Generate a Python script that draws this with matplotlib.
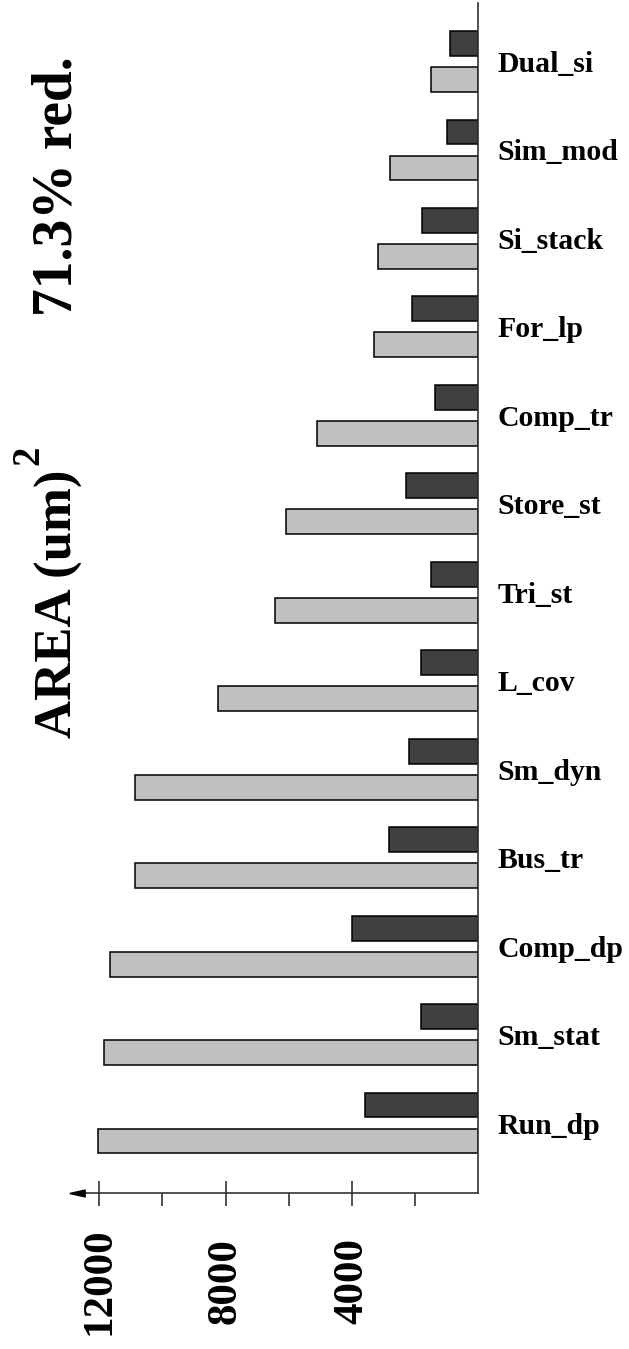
import matplotlib
matplotlib.use("Agg")
import matplotlib.pyplot as plt
import numpy as np

# circuits, listed top to bottom
circuits = ["Dual_si", "Sim_mod", "Si_stack", "For_lp", "Comp_tr", "Store_st",
            "Tri_st", "L_cov", "Sm_dyn", "Bus_tr", "Comp_dp", "Sm_stat", "Run_dp"]

# area after reduction (dark bars) and original area (light bars), in um^2
area_reduced = [890, 990, 1780, 2090, 1380, 2280, 1500, 1820, 2190, 2820, 3990, 1800, 3600]
area_original = [1500, 2790, 3180, 3290, 5100, 6100, 6420, 8250, 10860, 10860, 11640, 11860, 12030]

major_ticks = [4000, 8000, 12000]
minor_ticks = [2000, 6000, 10000]
tick_labels = ["4000", "8000", "12000"]

plt.rcParams["font.family"] = ["Liberation Serif", "DejaVu Serif"]
plt.rcParams["font.weight"] = "bold"

axis_color = "#333333"
W, H = 629, 1349

fig = plt.figure(figsize=(W / 100, H / 100), dpi=100)
ax = fig.add_axes([0.1224, 0.1156, 0.638, 0.8822])

pos = np.arange(len(circuits))
offset = 0.2035
bar_h = 0.28
ax.barh(pos - offset, area_reduced, height=bar_h, color="#404040",
        edgecolor="black", linewidth=1.1, zorder=2)
ax.barh(pos + offset, area_original, height=bar_h, color="#c0c0c0",
        edgecolor="black", linewidth=1.1, zorder=2)

# values grow to the left, first circuit at the top
ax.set_xlim(12700, 0)
ax.set_ylim(12.791, -0.661)

for side in ["top", "left"]:
    ax.spines[side].set_visible(False)
for side in ["right", "bottom"]:
    ax.spines[side].set_color(axis_color)
    ax.spines[side].set_linewidth(1.2)

# arrow head at the far end of the value axis
ax.plot([0], [0], transform=ax.transAxes, clip_on=False, zorder=5,
        marker=[(-1, 0), (1, 0.45), (1, -0.45), (-1, 0)],
        markersize=11, color="black", linestyle="none")

ax.yaxis.tick_right()
ax.set_yticks(pos, labels=circuits)
ax.tick_params(axis="y", length=0, pad=13.7, labelsize=21.4)

ax.set_xticks(major_ticks, labels=tick_labels)
ax.set_xticks(minor_ticks, minor=True)
ax.tick_params(axis="x", which="major", direction="inout", length=18,
               width=1.2, color=axis_color, pad=54.4, labelsize=31,
               labelrotation=90)
ax.tick_params(axis="x", which="minor", direction="out", length=9,
               width=1.2, color=axis_color)
for lab in ax.get_xticklabels():
    lab.set_va("center")
    lab.set_ha("center")

# rotated titles, anchored on their baselines
title_kw = dict(rotation=90, rotation_mode="anchor", ha="center",
                va="baseline", fontweight="bold")
fig.text(72 / W, 1 - 604 / H, "AREA (um)", fontsize=38, **title_kw)
fig.text(38 / W, 1 - 455 / H, "2", fontsize=28, **title_kw)
fig.text(72 / W, 1 - 186 / H, "71.3% red.", fontsize=40, **title_kw)

fig.savefig("out.png", dpi=100)
